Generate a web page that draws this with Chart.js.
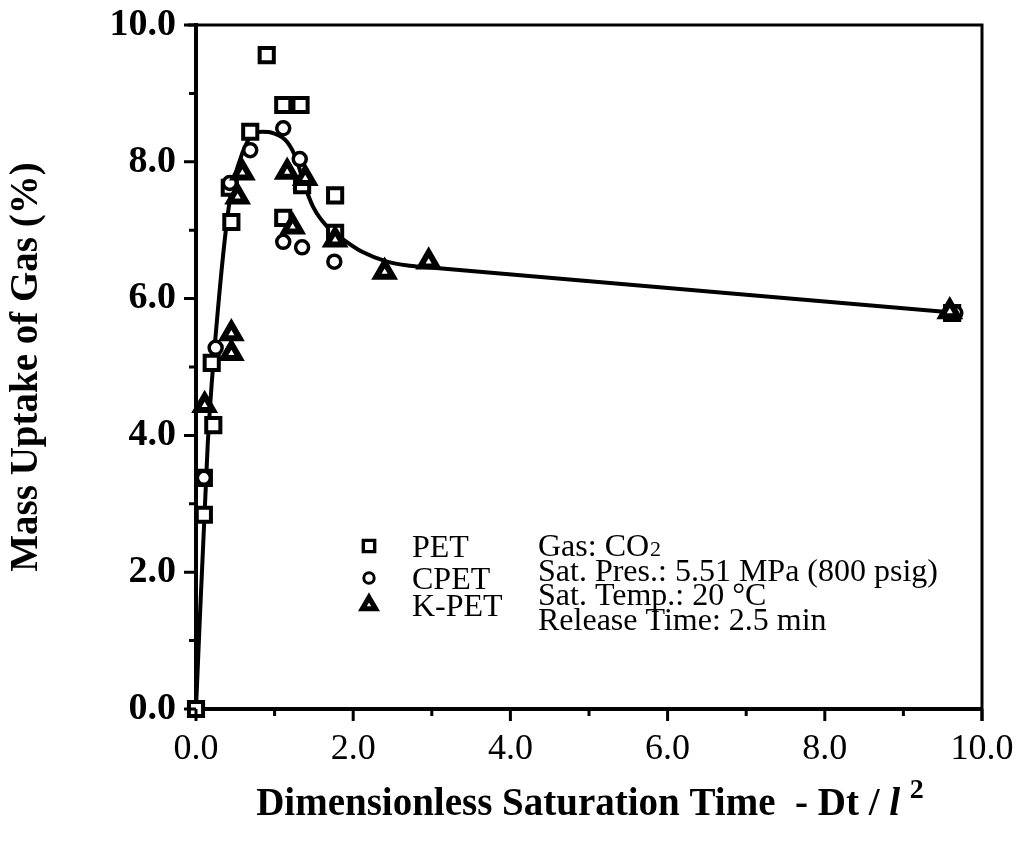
<!DOCTYPE html>
<html lang="en">
<head>
<meta charset="UTF-8">
<title>Mass Uptake of Gas vs Dimensionless Saturation Time</title>
<script src="https://cdn.jsdelivr.net/npm/chart.js"></script>
<style>
  html, body { margin: 0; padding: 0; background: #fff; }
  #wrap { width: 1028px; height: 842px; }
</style>
</head>
<body>
<div id="wrap"><canvas id="grafico" width="1028" height="842"></canvas></div>
<script>
// values (x = Dt/l^2, y = mass uptake %)
const petX = [0, 0.10, 0.10, 0.22, 0.20, 0.45, 0.43, 0.69, 0.90, 1.11, 1.33, 1.11, 1.35, 1.77, 1.77, 9.62];
const petY = [0, 2.84, 3.38, 4.15, 5.06, 7.12, 7.62, 8.44, 9.56, 8.83, 8.83, 7.18, 7.66, 7.51, 6.96, 5.79];

const cpetX = [0.10, 0.25, 0.43, 0.69, 1.11, 1.32, 1.11, 1.35, 1.76, 9.66];
const cpetY = [3.38, 5.28, 7.69, 8.17, 8.49, 8.04, 6.83, 6.75, 6.54, 5.79];

const kpetX = [0.11, 0.45, 0.45, 0.53, 0.59, 1.16, 1.39, 1.23, 1.77, 2.40, 2.96, 9.59];
const kpetY = [4.44, 5.49, 5.20, 7.49, 7.84, 7.85, 7.76, 7.05, 6.86, 6.39, 6.54, 5.81];

// fitted curve
const fitX = [0, 0.15, 0.29, 0.43, 0.56, 0.69, 0.84, 0.98, 1.16, 1.28, 1.36, 1.49, 1.67, 1.88, 2.12, 2.43, 2.72, 3.02, 9.59];
const fitY = [0, 3.89, 5.98, 7.44, 8.03, 8.36, 8.44, 8.42, 8.29, 8.03, 7.73, 7.34, 7.05, 6.86, 6.68, 6.54, 6.48, 6.45, 5.80];

const legendNames = ['PET', 'CPET', 'K-PET'];
const legendStyles = ['rect', 'circle', 'triangle'];
const noteLines = ['Gas: CO', 'Sat. Pres.: 5.51 MPa (800 psig)', 'Sat. Temp.: 20 \u00B0C', 'Release Time: 2.5 min'];

const SERIF = "'Liberation Serif', 'Times New Roman', serif";

function pts(xs, ys) {
  return xs.map((x, i) => ({ x: x, y: ys[i] }));
}

const markerOpts = {
  rect: { radius: 10, borderWidth: 4 },
  circle: { radius: 6.5, borderWidth: 3.5 },
  triangle: { radius: 9.5, borderWidth: 6 }
};

// frame, minor/major ticks, legend, notes, x title
const extras = {
  id: 'extras',
  afterDraw(chart) {
    const ctx = chart.ctx, a = chart.chartArea;
    const sx = chart.scales.x, sy = chart.scales.y;
    ctx.save();
    ctx.strokeStyle = '#000';
    ctx.lineWidth = 3;
    ctx.beginPath();
    ctx.moveTo(a.left - 8, a.top);
    ctx.lineTo(a.right, a.top);
    ctx.lineTo(a.right, a.bottom + 12);
    ctx.stroke();

    for (let v = 0; v <= 10; v++) {
      const len = v % 2 === 0 ? 12 : 7;
      const px = sx.getPixelForValue(v);
      const py = sy.getPixelForValue(v);
      ctx.beginPath();
      ctx.moveTo(px, a.bottom);
      ctx.lineTo(px, a.bottom + len);
      ctx.moveTo(a.left, py);
      ctx.lineTo(a.left - len, py);
      ctx.stroke();
    }

    // legend
    const rows = [546, 578, 605];
    legendNames.forEach((name, i) => {
      const y = rows[i];
      const st = legendStyles[i];
      ctx.strokeStyle = '#000';
      ctx.lineWidth = markerOpts[st].borderWidth * 0.85;
      ctx.fillStyle = '#fff';
      Chart.helpers.drawPoint(ctx, {
        pointStyle: st, rotation: 0,
        radius: markerOpts[st].radius * 0.8,
        borderWidth: markerOpts[st].borderWidth
      }, 369, y);
      ctx.fillStyle = '#000';
      ctx.font = '32px ' + SERIF;
      ctx.textBaseline = 'middle';
      ctx.textAlign = 'left';
      ctx.fillText(name, 412, y + 3);
    });

    // notes
    ctx.fillStyle = '#000';
    ctx.textBaseline = 'alphabetic';
    noteLines.forEach((t, i) => {
      const base = 556 + i * 24.5;
      ctx.font = '32px ' + SERIF;
      ctx.fillText(t, 538, base);
      if (i === 0) {
        const w = ctx.measureText(t).width;
        ctx.font = '22px ' + SERIF;
        ctx.fillText('2', 538 + w + 1, base);
      }
    });

    // x axis title with italic l and raised 2
    const parts = [
      { t: 'Dimensionless Saturation Time  - Dt / ', f: 'bold 39px ' + SERIF, dy: 0 },
      { t: 'l', f: 'italic bold 39px ' + SERIF, dy: 0 },
      { t: ' ', f: 'bold 39px ' + SERIF, dy: 0 },
      { t: '2', f: 'bold 28px ' + SERIF, dy: -17 }
    ];
    let total = 0;
    parts.forEach(p => { ctx.font = p.f; p.w = ctx.measureText(p.t).width; total += p.w; });
    let x = (a.left + a.right) / 2 - total / 2 + 1;
    parts.forEach(p => {
      ctx.font = p.f;
      ctx.fillText(p.t, x, 815 + p.dy);
      x += p.w;
    });
    ctx.restore();
  }
};

new Chart(document.getElementById('grafico'), {
  type: 'scatter',
  data: {
    datasets: [
      {
        label: 'PET', data: pts(petX, petY), pointStyle: 'rect', clip: false,
        pointRadius: markerOpts.rect.radius, pointBorderWidth: markerOpts.rect.borderWidth,
        pointBackgroundColor: '#fff', pointBorderColor: '#000', order: 3
      },
      {
        label: 'CPET', data: pts(cpetX, cpetY), pointStyle: 'circle', clip: false,
        pointRadius: markerOpts.circle.radius, pointBorderWidth: markerOpts.circle.borderWidth,
        pointBackgroundColor: '#fff', pointBorderColor: '#000', order: 2
      },
      {
        label: 'K-PET', data: pts(kpetX, kpetY), pointStyle: 'triangle', clip: false,
        pointRadius: markerOpts.triangle.radius, pointBorderWidth: markerOpts.triangle.borderWidth,
        pointBackgroundColor: '#fff', pointBorderColor: '#000', order: 1
      },
      {
        type: 'line', label: 'fit', data: pts(fitX, fitY),
        showLine: true, pointRadius: 0, borderColor: '#000', borderWidth: 4,
        cubicInterpolationMode: 'monotone', fill: false, order: 10
      }
    ]
  },
  options: {
    responsive: false,
    animation: false,
    devicePixelRatio: 1,
    layout: { padding: { left: 0, top: 25, right: 46, bottom: 0 } },
    plugins: {
      legend: { display: false },
      tooltip: { enabled: false }
    },
    scales: {
      x: {
        type: 'linear', min: 0, max: 10,
        afterFit: s => { s.height = 133; s.paddingLeft = 0; s.paddingRight = 0; },
        ticks: {
          stepSize: 1, autoSkip: false, maxRotation: 0, color: '#000', padding: 19,
          font: { family: SERIF, size: 36 },
          callback: v => (v % 2 === 0 ? v.toFixed(1) : '')
        },
        grid: { drawOnChartArea: false, drawTicks: false },
        border: { display: true, color: '#000', width: 4 }
      },
      y: {
        min: 0, max: 10,
        afterFit: s => { s.width = 196; s.paddingTop = 0; s.paddingBottom = 0; },
        ticks: {
          stepSize: 1, autoSkip: false, color: '#000', padding: 20,
          font: { family: SERIF, size: 38, weight: 'bold' },
          callback: v => (v % 2 === 0 ? v.toFixed(1) : '')
        },
        grid: { drawOnChartArea: false, drawTicks: false },
        border: { display: true, color: '#000', width: 4 },
        title: {
          display: true, text: 'Mass Uptake of Gas (%)', color: '#000',
          font: { family: SERIF, size: 39, weight: 'bold' },
          padding: { top: 4, bottom: 0 }
        }
      }
    }
  },
  plugins: [extras]
});
</script>
</body>
</html>
